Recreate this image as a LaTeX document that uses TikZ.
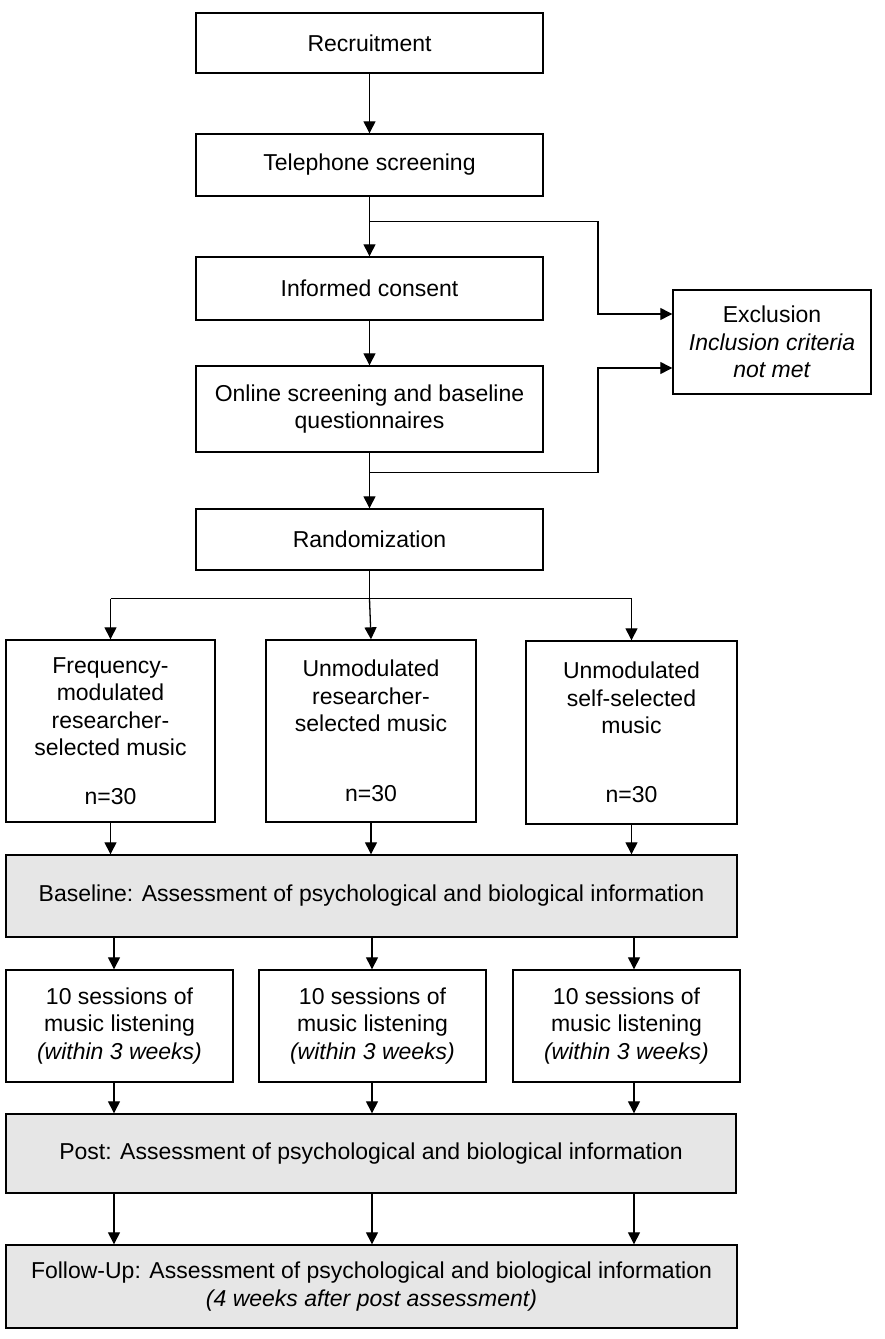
\documentclass[tikz,border=0pt]{standalone}
\usepackage{fontspec}
\setmainfont{Liberation Sans}
\usetikzlibrary{arrows.meta,calc}
\definecolor{boxgray}{RGB}{230,230,230}
\begin{document}
\begin{tikzpicture}[x=1pt,y=-1pt,
  box/.style={draw, line width=1.4pt, align=center, inner sep=0pt, font=\fontsize{23}{27.5}\selectfont},
  graybox/.style={box, fill=boxgray},
  arr/.style={line width=1.3pt, -{Triangle[width=12pt,length=12pt]}},
  ln/.style={line width=1.3pt}]
\useasboundingbox (0,0) rectangle (885,1339);

% main column
\node[box, minimum width=347pt, minimum height=60pt] (rec) at (369.5,43) {Recruitment};
\node[box, minimum width=347pt, minimum height=62pt] (tel) at (369.5,165) {Telephone screening};
\node[box, minimum width=347pt, minimum height=63pt] (inf) at (369.5,288.5) {Informed consent};
\node[box, minimum width=347pt, minimum height=86pt] (onl) at (369.5,409) {Online screening and baseline\\questionnaires};
\node[box, minimum width=347pt, minimum height=61pt] (rand) at (369.5,539.5) {Randomization};
\node[box, minimum width=198pt, minimum height=104pt] (exc) at (772,342) {Exclusion\\\textit{Inclusion criteria}\\\textit{not met}};

% groups
\node[box, minimum width=209pt, minimum height=182pt] (g1) at (110.5,731) {Frequency-\\modulated\\researcher-\\selected music\\[21pt]n=30};
\node[box, minimum width=210pt, minimum height=182pt] (g2) at (371,731) {Unmodulated\\researcher-\\selected music\\[42pt]n=30};
\node[box, minimum width=211pt, minimum height=183pt] (g3) at (631.5,732.5) {Unmodulated\\self-selected\\music\\[41pt]n=30};

\node[graybox, minimum width=731pt, minimum height=82pt] (base) at (371.5,896) {Baseline: Assessment of psychological and biological information};

\node[box, minimum width=227pt, minimum height=112pt] (s1) at (119.5,1026) {10 sessions of\\music listening\\\textit{(within 3 weeks)}};
\node[box, minimum width=227pt, minimum height=112pt] (s2) at (372.5,1026) {10 sessions of\\music listening\\\textit{(within 3 weeks)}};
\node[box, minimum width=227pt, minimum height=112pt] (s3) at (626.5,1026) {10 sessions of\\music listening\\\textit{(within 3 weeks)}};

\node[graybox, minimum width=730pt, minimum height=79pt] (post) at (371,1153.5) {Post: Assessment of psychological and biological information};
\node[graybox, minimum width=731pt, minimum height=83pt] (fu) at (371.5,1286.5) {Follow-Up: Assessment of psychological and biological information\\\textit{(4 weeks after post assessment)}};

% helper coordinates
\coordinate (kx) at (598,0);
\coordinate (c1) at (114,0);
\coordinate (c2) at (372,0);
\coordinate (c3) at (634,0);
\coordinate (b1) at ($(tel.south)+(0,25)$);
\coordinate (b2) at ($(onl.south)+(0,20)$);
\coordinate (e1) at ($(exc.west)+(0,-28)$);
\coordinate (e2) at ($(exc.west)+(0,26)$);
\coordinate (sp) at ($(rand.south)+(0,28)$);

% main column arrows
\draw[arr] (rec) -- (tel);
\draw[arr] (tel) -- (inf);
\draw[arr] (inf) -- (onl);
\draw[arr] (onl) -- (rand);
\draw[arr] (b1) -- (b1 -| kx) |- (e1);
\draw[arr] (b2) -- (b2 -| kx) |- (e2);

% split
\draw[ln] (rand.south) -- (sp);
\draw[ln] (sp -| g1.north) -- (sp -| g3.north);
\draw[arr] (sp -| g1.north) -- (g1.north);
\draw[arr] (sp) -- (g2.north);
\draw[arr] (sp -| g3.north) -- (g3.north);

% groups to baseline
\draw[arr] (g1.south) -- (g1.south |- base.north);
\draw[arr] (g2.south) -- (g2.south |- base.north);
\draw[arr] (g3.south) -- (g3.south |- base.north);

% baseline to sessions
\draw[arr] (c1 |- base.south) -- (c1 |- s1.north);
\draw[arr] (c2 |- base.south) -- (c2 |- s2.north);
\draw[arr] (c3 |- base.south) -- (c3 |- s3.north);

% sessions to post
\draw[arr] (c1 |- s1.south) -- (c1 |- post.north);
\draw[arr] (c2 |- s2.south) -- (c2 |- post.north);
\draw[arr] (c3 |- s3.south) -- (c3 |- post.north);

% post to follow-up
\draw[arr] (c1 |- post.south) -- (c1 |- fu.north);
\draw[arr] (c2 |- post.south) -- (c2 |- fu.north);
\draw[arr] (c3 |- post.south) -- (c3 |- fu.north);
\end{tikzpicture}
\end{document}
